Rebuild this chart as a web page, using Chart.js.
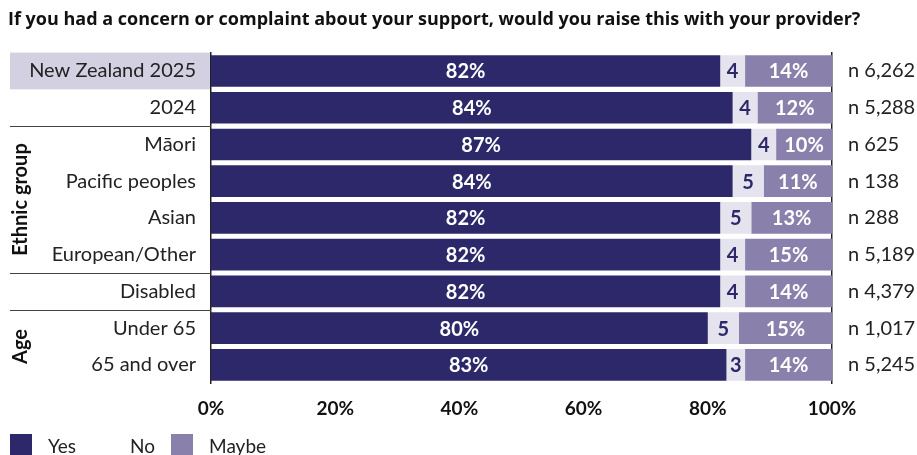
<!DOCTYPE html>
<html>
<head>
<meta charset="utf-8">
<script src="https://cdn.jsdelivr.net/npm/chart.js@4"></script>
<style>
  html, body { margin: 0; padding: 0; background: #fff; overflow: hidden; }
  #wrap { position: relative; width: 917px; height: 455px; }
  #legend { position: absolute; left: 10px; top: 434px; display: flex; font-family: Lato, sans-serif; font-size: 19px; color: #222; }
  #legend .item { display: flex; align-items: flex-start; margin-right: 16px; }
  #legend .sw { width: 22px; height: 22px; margin-right: 16px; }
  #legend span { line-height: 24px; }
</style>
</head>
<body>
<div id="wrap">
  <canvas id="chart" width="917" height="455"></canvas>
  <div id="legend"></div>
</div>
<script>
const categories = ['New Zealand 2025', '2024', 'Māori', 'Pacific peoples', 'Asian', 'European/Other', 'Disabled', 'Under 65', '65 and over'];
const yesValues = [82, 84, 87, 84, 82, 82, 82, 80, 83];
const noValues = [4, 4, 4, 5, 5, 4, 4, 5, 3];
const maybeValues = [14, 12, 10, 11, 13, 15, 14, 15, 14];
const sampleSizes = ['n 6,262', 'n 5,288', 'n 625', 'n 138', 'n 288', 'n 5,189', 'n 4,379', 'n 1,017', 'n 5,245'];
const xTicks = [0, 20, 40, 60, 80, 100];
const groups = [
  { label: 'Ethnic group', from: 2, to: 5 },
  { label: 'Age', from: 7, to: 8 }
];
const dividersAfter = [1, 5, 6];

const colYes = '#2c2869';
const colNo = '#e5e3ee';
const colMaybe = '#8a80ac';
const FONT = 'Lato, "Open Sans", sans-serif';

// shaded background behind the first row label (drawn before the axes)
const rowHighlight = {
  id: 'rowHighlight',
  beforeDraw(chart) {
    const { ctx, scales: { y } } = chart;
    const half = (y.getPixelForValue(1) - y.getPixelForValue(0)) / 2;
    const y0 = y.getPixelForValue(0);
    ctx.save();
    ctx.fillStyle = '#d3d0e2';
    ctx.fillRect(10, y0 - half, chart.chartArea.left - 10, half * 2);
    ctx.restore();
  }
};

// separators and the rotated group names in the label column
const sidePanel = {
  id: 'sidePanel',
  afterDraw(chart) {
    const { ctx, scales: { y } } = chart;
    const half = (y.getPixelForValue(1) - y.getPixelForValue(0)) / 2;
    const axisX = chart.chartArea.left;
    ctx.save();
    ctx.strokeStyle = '#444';
    ctx.lineWidth = 1;
    dividersAfter.forEach(i => {
      const py = Math.round(y.getPixelForValue(i) + half) + 0.5;
      ctx.beginPath();
      ctx.moveTo(10, py);
      ctx.lineTo(axisX, py);
      ctx.stroke();
    });

    ctx.fillStyle = '#111';
    ctx.font = 'bold 20px ' + FONT;
    ctx.textAlign = 'center';
    ctx.textBaseline = 'middle';
    groups.forEach(g => {
      const cy = (y.getPixelForValue(g.from) + y.getPixelForValue(g.to)) / 2;
      ctx.save();
      ctx.translate(21, cy);
      ctx.rotate(-Math.PI / 2);
      ctx.fillText(g.label, 0, 0);
      ctx.restore();
    });
    ctx.restore();
  }
};

// value labels inside each segment
const segmentLabels = {
  id: 'segmentLabels',
  afterDatasetsDraw(chart) {
    const { ctx, chartArea } = chart;
    ctx.save();
    ctx.font = 'bold 20px ' + FONT;
    ctx.textAlign = 'center';
    ctx.textBaseline = 'middle';
    chart.data.datasets.forEach((ds, di) => {
      const meta = chart.getDatasetMeta(di);
      meta.data.forEach((bar, i) => {
        const left = Math.max(Math.min(bar.x, bar.base), chartArea.left);
        const right = Math.min(Math.max(bar.x, bar.base), chartArea.right);
        ctx.fillStyle = ds.labelColor;
        ctx.fillText(ds.data[i] + ds.suffix, (left + right) / 2, bar.y + 1);
      });
    });
    ctx.restore();
  }
};

new Chart(document.getElementById('chart'), {
  type: 'bar',
  data: {
    labels: categories,
    datasets: [
      { label: 'Yes', data: yesValues, backgroundColor: colYes, labelColor: '#fff', suffix: '%' },
      { label: 'No', data: noValues, backgroundColor: colNo, labelColor: colYes, suffix: '' },
      { label: 'Maybe', data: maybeValues, backgroundColor: colMaybe, labelColor: '#fff', suffix: '%' }
    ]
  },
  options: {
    indexAxis: 'y',
    responsive: false,
    animation: false,
    barPercentage: 0.86,
    categoryPercentage: 1,
    layout: { padding: { left: 8, right: 0, top: 0, bottom: 21 } },
    scales: {
      x: {
        stacked: true,
        min: 0,
        max: 100,
        afterBuildTicks: s => { s.ticks = xTicks.map(v => ({ value: v })); },
        grid: { display: false, drawTicks: false },
        border: { display: false },
        ticks: { padding: 14, color: '#111', font: { family: FONT, size: 19, weight: 'bold' }, callback: v => v + '%' }
      },
      y: {
        stacked: true,
        grid: { display: false, drawTicks: false },
        border: { display: true, color: '#222', width: 1.5 },
        ticks: { padding: 15, color: '#222', font: { family: FONT, size: 20 } },
        afterFit: s => { s.width = 203; }
      },
      n: {
        type: 'category',
        position: 'right',
        labels: sampleSizes,
        offset: true,
        grid: { display: false, drawTicks: false },
        border: { display: true, color: '#222', width: 1.5 },
        ticks: { padding: 16, color: '#222', font: { family: FONT, size: 20 } },
        afterFit: s => { s.width = 85; }
      }
    },
    plugins: {
      legend: { display: false },
      tooltip: { enabled: false },
      title: {
        display: true,
        align: 'start',
        text: 'If you had a concern or complaint about your support, would you raise this with your provider?',
        color: '#111',
        font: { family: '"Open Sans", sans-serif', size: 18, weight: 'bold' },
        padding: { top: 9, bottom: 22 }
      }
    }
  },
  plugins: [rowHighlight, sidePanel, segmentLabels]
});

// legend row under the axis
const legendItems = [
  { label: 'Yes', color: colYes },
  { label: 'No', color: '#fff' },
  { label: 'Maybe', color: colMaybe }
];
const legendEl = document.getElementById('legend');
legendItems.forEach(it => {
  const item = document.createElement('div');
  item.className = 'item';
  item.innerHTML = '<div class="sw" style="background:' + it.color + '"></div><span>' + it.label + '</span>';
  legendEl.appendChild(item);
});
</script>
</body>
</html>
